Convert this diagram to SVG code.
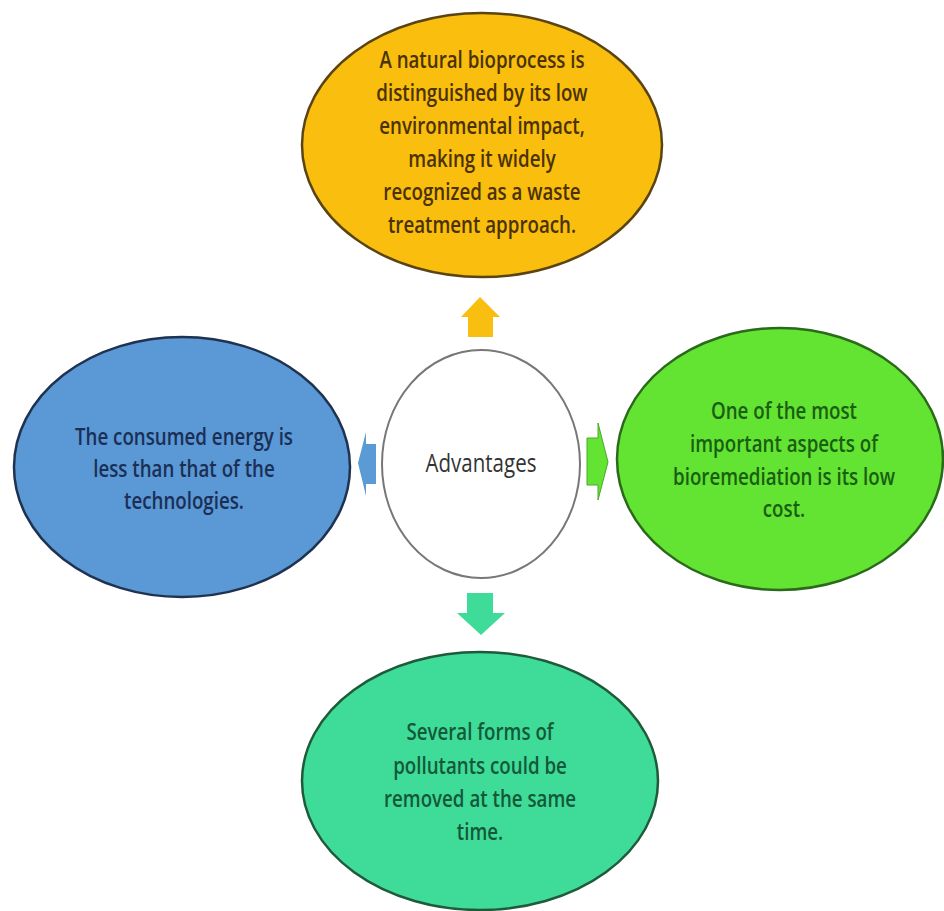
<svg xmlns="http://www.w3.org/2000/svg" width="944" height="911" viewBox="0 0 944 911">
  <style>
    .t { font-family: "Open Sans", "Noto Sans", "Liberation Sans", sans-serif; font-size: 24px; font-weight: 600; text-anchor: middle; }
    .node { stroke-width: 2.5; }
  </style>
  <rect width="944" height="911" fill="#ffffff"/>
  <g id="connectors">
    <polygon id="arrow-up" points="480,297 500,317 493,317 493,337 468,337 468,317 461,317" fill="#F8BE10"/>
    <polygon id="arrow-left" points="358,463 366,432 366,444 376,444 376,484 366,484 366,496" fill="#5B9BD5"/>
    <polygon id="arrow-right" points="608,462 598,423 598,438 587,438 587,485 598,485 598,500" fill="#63E332" stroke="#4aa82a" stroke-width="1"/>
    <polygon id="arrow-down" points="481,635 505,613 493,613 493,593 467,593 467,613 457,613" fill="#3EDC98"/>
  </g>
  <g id="node-top">
    <ellipse class="node" cx="482" cy="145" rx="180" ry="132" fill="#F9BE0E" stroke="#5a4512"/>
    <g transform="translate(482,0) scale(0.78,1)" fill="#4a3204">
      <text class="t" x="0" y="68">A natural bioprocess is</text>
      <text class="t" x="0" y="101">distinguished by its low</text>
      <text class="t" x="0" y="134">environmental impact,</text>
      <text class="t" x="0" y="167">making it widely</text>
      <text class="t" x="0" y="200">recognized as a waste</text>
      <text class="t" x="0" y="233">treatment approach.</text>
    </g>
  </g>
  <g id="node-center">
    <ellipse cx="481" cy="464" rx="99" ry="114" fill="#ffffff" stroke="#777777" stroke-width="2"/>
    <g transform="translate(481,0) scale(0.82,1)" fill="#333333">
      <text class="t" x="0" y="472" style="font-size:25px;font-weight:400">Advantages</text>
    </g>
  </g>
  <g id="node-left">
    <ellipse class="node" cx="182" cy="467" rx="168" ry="130" fill="#5A98D6" stroke="#1f3350"/>
    <g transform="translate(184,0) scale(0.78,1)" fill="#1b2f55">
      <text class="t" x="0" y="445">The consumed energy is</text>
      <text class="t" x="0" y="477">less than that of the</text>
      <text class="t" x="0" y="509">technologies.</text>
    </g>
  </g>
  <g id="node-right">
    <ellipse class="node" cx="780" cy="459" rx="163" ry="131" fill="#63E332" stroke="#2a6a1a"/>
    <g transform="translate(784,0) scale(0.78,1)" fill="#1a5e12">
      <text class="t" x="0" y="419">One of the most</text>
      <text class="t" x="0" y="452">important aspects of</text>
      <text class="t" x="0" y="485">bioremediation is its low</text>
      <text class="t" x="0" y="517">cost.</text>
    </g>
  </g>
  <g id="node-bottom">
    <ellipse class="node" cx="480" cy="781" rx="178" ry="129" fill="#3EDC98" stroke="#1f5a3a"/>
    <g transform="translate(480,0) scale(0.78,1)" fill="#14583a">
      <text class="t" x="0" y="740">Several forms of</text>
      <text class="t" x="0" y="774">pollutants could be</text>
      <text class="t" x="0" y="807">removed at the same</text>
      <text class="t" x="0" y="840">time.</text>
    </g>
  </g>
</svg>
